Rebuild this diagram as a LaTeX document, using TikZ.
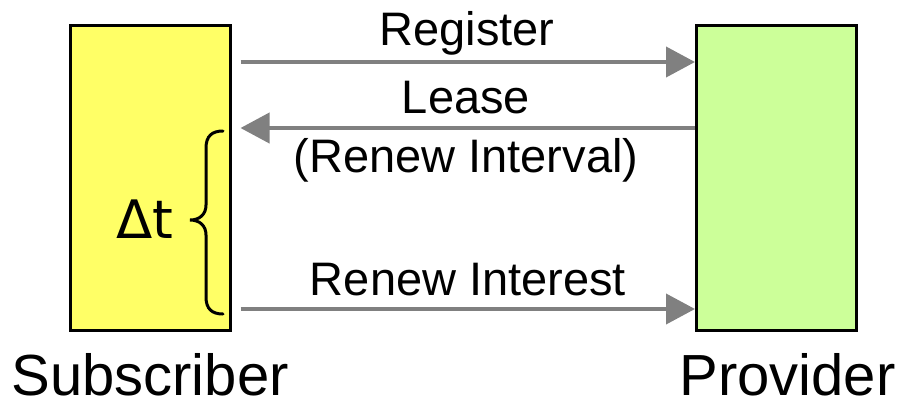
\documentclass[tikz,border=0pt]{standalone}
\usepackage{fontspec}
\setmainfont{Liberation Sans}
\newfontfamily\deltafont{DejaVu Sans}
\usetikzlibrary{arrows.meta}
\definecolor{subfill}{HTML}{FFFF66}
\definecolor{provfill}{HTML}{CCFF99}
\definecolor{msggray}{HTML}{808080}
\tikzset{
  party/.style={draw=black, line width=3pt, minimum width=160pt, minimum height=305pt, inner sep=0pt},
  msg/.style={draw=msggray, line width=4pt, -{Triangle[length=29pt,width=30pt]}},
  lbl/.style={inner sep=0pt, anchor=base, font=\fontsize{47}{50}\selectfont},
  bigl/.style={inner sep=0pt, anchor=base, font=\fontsize{58}{62}\selectfont},
}
\begin{document}
\begin{tikzpicture}[x=1pt,y=-1pt]
\useasboundingbox (0,0) rectangle (899,400);

% the two parties
\node[party, fill=subfill] (sub) at (150,178) {};
\node[party, fill=provfill] (prov) at (776.5,178) {};

% messages
\coordinate (r1) at (0,62);
\coordinate (r2) at (0,128);
\coordinate (r3) at (0,309);
\draw[msg, shorten <=9pt] (sub.east |- r1) -- (prov.west |- r1);
\draw[msg, shorten >=9pt] (prov.west |- r2) -- (sub.east |- r2);
\draw[msg, shorten <=9pt] (sub.east |- r3) -- (prov.west |- r3);

\node[lbl] (lreg) at (467,45) {Register};
\node[lbl] (llease) at (466,113) {Lease};
\node[lbl] (lint) at (466,172) {(Renew Interval)};
\node[lbl] (lren) at (468,295) {Renew Interest};

% renewal period brace
\draw[black, line width=3pt, line cap=round]
  (223,131) .. controls (212,131) and (206,136) .. (206,148)
  -- (206,205) .. controls (206,214) and (200,220) .. (190,220)
  .. controls (200,220) and (206,226) .. (206,235)
  -- (206,297) .. controls (206,309) and (212,314) .. (223,314);
\node[inner sep=0pt, anchor=base, font=\deltafont\fontsize{53}{56}\selectfont] (dt) at (145,238) {Δt};

% party names
\node[bigl] (lsub) at (150,395) {Subscriber};
\node[bigl] (lprov) at (787.5,395) {Provider};
\end{tikzpicture}
\end{document}
